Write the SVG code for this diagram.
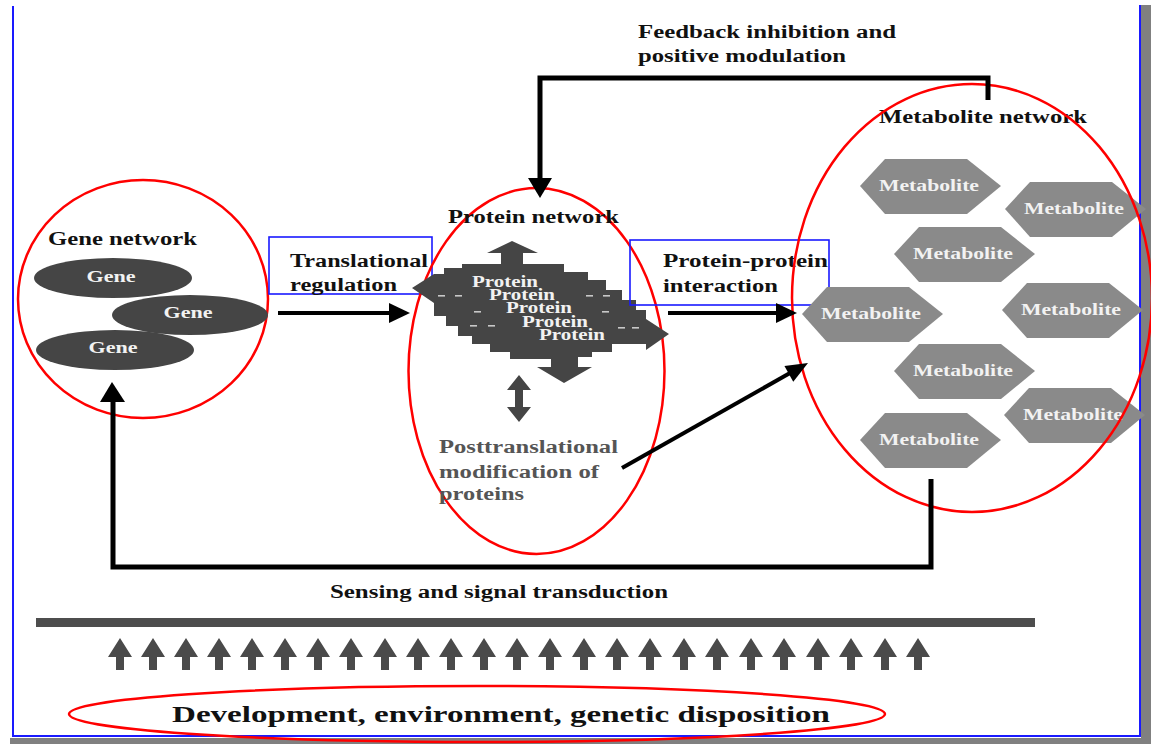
<svg xmlns="http://www.w3.org/2000/svg" width="1151" height="744" viewBox="0 0 1151 744">
  <style>
    text { font-family: "Liberation Serif", "Times New Roman", serif; font-weight: bold; }
    .lbl { font-size: 18px; fill: #111; }
    .inner { font-size: 16px; fill: #f2f2f2; }
    .grey { fill: #555; }
    .ring { fill: none; stroke: #f00; stroke-width: 2.5; }
    .box { fill: none; stroke: #1a1aff; stroke-width: 1.6; }
    .wire { fill: none; stroke: #000; stroke-width: 5; stroke-linejoin: miter; }
    .wire4 { fill: none; stroke: #000; stroke-width: 4; }
    .head { fill: #000; }
    .hex { fill: #8a8a8a; }
    .gene { fill: #454545; }
    .up { fill: #4a4a4a; }
  </style>
  <defs>
    <polygon id="hexShape" points="-70,0 -45,-27 37,-27 71,0 37,28 -45,28"/>
    <polygon id="upArrow" points="0,638 -12,657 -4,657 -4,670 4,670 4,657 12,657"/>
  </defs>

  <!-- page frame -->
  <rect x="0" y="0" width="1151" height="744" fill="#fff"/>
  <rect x="1141" y="5" width="10" height="739" fill="#808080"/>
  <rect x="10" y="738" width="1141" height="6" fill="#808080"/>
  <path d="M13,6 V736 H1140 V5" fill="none" stroke="#1a1aff" stroke-width="2"/>

  <!-- gene network -->
  <g id="gene-network">
    <ellipse class="ring" cx="143" cy="299" rx="125" ry="119"/>
    <text class="lbl" x="48" y="245" textLength="149" lengthAdjust="spacingAndGlyphs">Gene network</text>
    <ellipse class="gene" cx="113" cy="278" rx="79" ry="20"/>
    <ellipse class="gene" cx="190" cy="315" rx="78" ry="20"/>
    <ellipse class="gene" cx="115" cy="350" rx="79" ry="20"/>
    <text class="inner" x="111" y="282" text-anchor="middle" textLength="49" lengthAdjust="spacingAndGlyphs">Gene</text>
    <text class="inner" x="188" y="318" text-anchor="middle" textLength="49" lengthAdjust="spacingAndGlyphs">Gene</text>
    <text class="inner" x="113" y="353" text-anchor="middle" textLength="49" lengthAdjust="spacingAndGlyphs">Gene</text>
  </g>

  <!-- translational regulation label -->
  <g id="translational-regulation">
    <rect class="box" x="269" y="237" width="163" height="57"/>
    <text class="lbl" x="290" y="267" textLength="138" lengthAdjust="spacingAndGlyphs">Translational</text>
    <text class="lbl" x="290" y="291" textLength="107" lengthAdjust="spacingAndGlyphs">regulation</text>
  </g>

  <!-- protein network -->
  <g id="protein-network">
    <ellipse class="ring" cx="536.5" cy="371" rx="128" ry="183"/>
    <text class="lbl" x="448" y="223" textLength="171" lengthAdjust="spacingAndGlyphs">Protein network</text>
    <!-- stacked protein block with four outward arrows -->
    <polygon fill="#454545" points="512,241 538,253 523,253 523,264 564,264 564,272 588,272 588,280 606,280 606,290 622,290 622,300 636,300 636,310 646,310 646,319 669,334 646,350 646,344 612,344 612,352 592,352 592,357 578,357 578,367 592,367 564,383 537,367 551,367 551,359 510,359 510,352 490,352 490,344 472,344 472,336 458,336 458,326 446,326 446,316 434,316 434,303 412,288 434,274 444,274 444,268 462,268 462,264 501,264 501,253 487,253"/>
    <g fill="#c8c8c8">
      <rect x="438" y="295" width="7" height="1.6"/>
      <rect x="455" y="295" width="7" height="1.6"/>
      <rect x="586" y="295" width="7" height="1.6"/>
      <rect x="603" y="295" width="7" height="1.6"/>
      <rect x="474" y="311" width="7" height="1.6"/>
      <rect x="602" y="311" width="7" height="1.6"/>
      <rect x="470" y="325" width="7" height="1.6"/>
      <rect x="488" y="325" width="7" height="1.6"/>
      <rect x="618" y="327" width="7" height="1.6"/>
      <rect x="632" y="327" width="7" height="1.6"/>
    </g>
    <text class="inner" x="472" y="287" textLength="66" lengthAdjust="spacingAndGlyphs">Protein</text>
    <text class="inner" x="489" y="300" textLength="66" lengthAdjust="spacingAndGlyphs">Protein</text>
    <text class="inner" x="506" y="313" textLength="66" lengthAdjust="spacingAndGlyphs">Protein</text>
    <text class="inner" x="522" y="327" textLength="66" lengthAdjust="spacingAndGlyphs">Protein</text>
    <text class="inner" x="539" y="340" textLength="66" lengthAdjust="spacingAndGlyphs">Protein</text>
    <polygon fill="#454545" points="519,375 507,390 515,390 515,407 507,407 519,422 531,407 523,407 523,390 531,390"/>
  </g>

  <!-- posttranslational modification label -->
  <g id="posttranslational">
    <text class="lbl grey" x="439" y="453" textLength="179" lengthAdjust="spacingAndGlyphs">Posttranslational</text>
    <text class="lbl grey" x="439" y="478" textLength="160" lengthAdjust="spacingAndGlyphs">modification of</text>
    <text class="lbl grey" x="439" y="500" textLength="85" lengthAdjust="spacingAndGlyphs">proteins</text>
  </g>

  <!-- protein-protein interaction label -->
  <g id="protein-interaction">
    <rect class="box" x="630" y="240" width="199" height="65"/>
    <text class="lbl" x="663" y="267" textLength="165" lengthAdjust="spacingAndGlyphs">Protein-protein</text>
    <text class="lbl" x="663" y="292" textLength="115" lengthAdjust="spacingAndGlyphs">interaction</text>
  </g>

  <!-- metabolite network -->
  <g id="metabolite-network">
    <g class="hex">
      <use href="#hexShape" x="930" y="186"/>
      <use href="#hexShape" x="1075" y="209"/>
      <use href="#hexShape" x="964" y="254"/>
      <use href="#hexShape" x="872" y="314"/>
      <use href="#hexShape" x="1072" y="310"/>
      <use href="#hexShape" x="964" y="371"/>
      <use href="#hexShape" x="1074" y="415"/>
      <use href="#hexShape" x="930" y="440"/>
    </g>
    <text class="inner" x="929" y="191" text-anchor="middle" textLength="100" lengthAdjust="spacingAndGlyphs">Metabolite</text>
    <text class="inner" x="1074" y="214" text-anchor="middle" textLength="100" lengthAdjust="spacingAndGlyphs">Metabolite</text>
    <text class="inner" x="963" y="259" text-anchor="middle" textLength="100" lengthAdjust="spacingAndGlyphs">Metabolite</text>
    <text class="inner" x="871" y="319" text-anchor="middle" textLength="100" lengthAdjust="spacingAndGlyphs">Metabolite</text>
    <text class="inner" x="1071" y="315" text-anchor="middle" textLength="100" lengthAdjust="spacingAndGlyphs">Metabolite</text>
    <text class="inner" x="963" y="376" text-anchor="middle" textLength="100" lengthAdjust="spacingAndGlyphs">Metabolite</text>
    <text class="inner" x="1073" y="420" text-anchor="middle" textLength="100" lengthAdjust="spacingAndGlyphs">Metabolite</text>
    <text class="inner" x="929" y="445" text-anchor="middle" textLength="100" lengthAdjust="spacingAndGlyphs">Metabolite</text>
    <text class="lbl" x="879" y="123" textLength="208" lengthAdjust="spacingAndGlyphs">Metabolite network</text>
    <ellipse class="ring" cx="972" cy="298" rx="180" ry="214"/>
  </g>

  <!-- connectors -->
  <g id="connectors">
    <path class="wire" d="M988,100 V78 H540 V180"/>
    <polygon class="head" points="528,178 552,178 540,198"/>
    <path class="wire" d="M931,479 V567 H113 V400"/>
    <polygon class="head" points="100,402 125,402 112,382"/>
    <line class="wire4" x1="278" y1="313" x2="391" y2="313"/>
    <polygon class="head" points="389,303 410,313 389,323"/>
    <line class="wire4" x1="668" y1="313" x2="778" y2="313"/>
    <polygon class="head" points="776,303 797,313 776,323"/>
    <line class="wire4" x1="622" y1="468" x2="790" y2="373"/>
    <polygon class="head" transform="translate(808,363) rotate(-29.45)" points="0,0 -22,-9 -22,9"/>
  </g>

  <!-- connector captions -->
  <g id="captions">
    <text class="lbl" x="638" y="38" textLength="258" lengthAdjust="spacingAndGlyphs">Feedback inhibition and</text>
    <text class="lbl" x="638" y="62" textLength="208" lengthAdjust="spacingAndGlyphs">positive modulation</text>
    <text class="lbl" x="330" y="598" font-size="17" textLength="338" lengthAdjust="spacingAndGlyphs">Sensing and signal transduction</text>
  </g>

  <!-- environmental input -->
  <g id="environment">
    <rect x="36" y="618" width="999" height="9" fill="#4d4d4d"/>
    <g class="up">
      <use href="#upArrow" x="120"/><use href="#upArrow" x="153"/><use href="#upArrow" x="186"/>
      <use href="#upArrow" x="219"/><use href="#upArrow" x="252"/><use href="#upArrow" x="285"/>
      <use href="#upArrow" x="318"/><use href="#upArrow" x="351"/><use href="#upArrow" x="385"/>
      <use href="#upArrow" x="418"/><use href="#upArrow" x="451"/><use href="#upArrow" x="484"/>
      <use href="#upArrow" x="517"/><use href="#upArrow" x="550"/><use href="#upArrow" x="584"/>
      <use href="#upArrow" x="617"/><use href="#upArrow" x="650"/><use href="#upArrow" x="684"/>
      <use href="#upArrow" x="717"/><use href="#upArrow" x="751"/><use href="#upArrow" x="784"/>
      <use href="#upArrow" x="818"/><use href="#upArrow" x="851"/><use href="#upArrow" x="885"/>
      <use href="#upArrow" x="918"/>
    </g>
    <text x="172" y="722" font-size="24" fill="#111" textLength="658" lengthAdjust="spacingAndGlyphs">Development, environment, genetic disposition</text>
    <ellipse class="ring" cx="477" cy="714" rx="408" ry="28"/>
  </g>
</svg>
